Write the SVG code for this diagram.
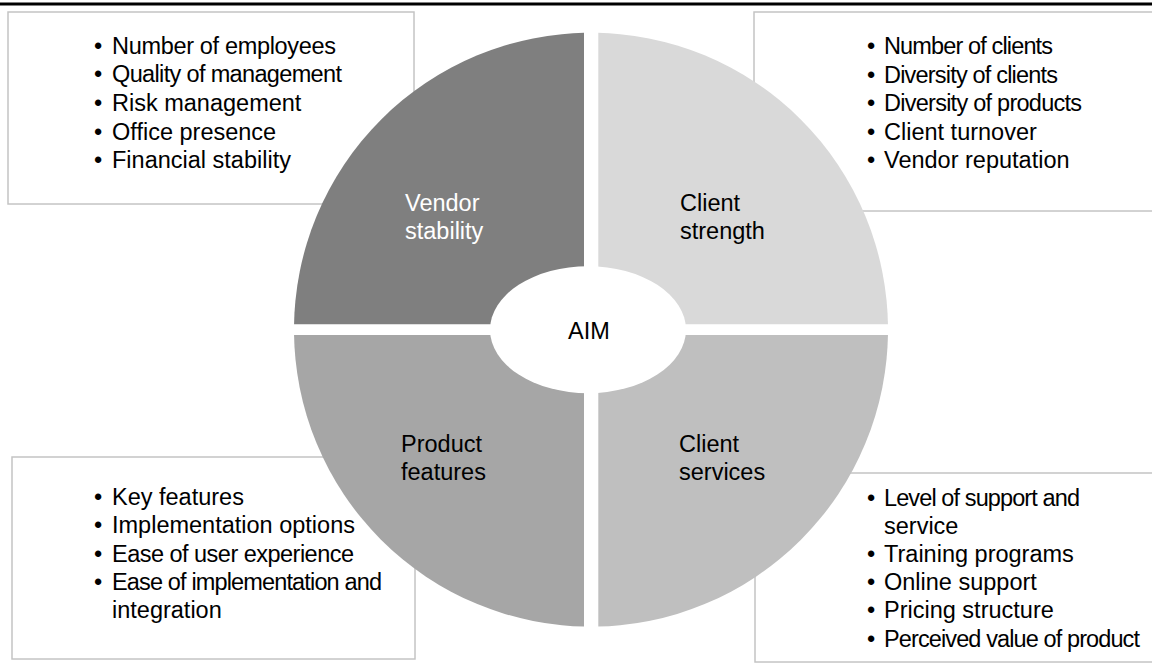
<svg xmlns="http://www.w3.org/2000/svg" width="1152" height="669" viewBox="0 0 1152 669">
<style>
  .box { fill: #ffffff; stroke: #c4c4c4; stroke-width: 1.5; }
  .t { font-family: "Liberation Sans", Arial, sans-serif; font-size: 23.5px; fill: #000000; }
  .w { font-family: "Liberation Sans", Arial, sans-serif; font-size: 23.5px; fill: #ffffff; }
</style>
<defs>
  <clipPath id="cTL"><rect x="0" y="0" width="584" height="324.3"/></clipPath>
  <clipPath id="cTR"><rect x="598.3" y="0" width="600" height="324.3"/></clipPath>
  <clipPath id="cBL"><rect x="0" y="335" width="584" height="400"/></clipPath>
  <clipPath id="cBR"><rect x="598.3" y="335" width="600" height="400"/></clipPath>
</defs>
<rect x="0" y="0" width="1152" height="669" fill="#ffffff"/>
<line x1="0" y1="4" x2="1152" y2="4" stroke="#000000" stroke-width="3"/>

<g id="box-vendor-stability">
  <rect class="box" x="8" y="12" width="406" height="192"/>
  <text class="t" x="94" y="53.5">•</text><text class="t" x="112" y="53.5" textLength="224" lengthAdjust="spacing">Number of employees</text>
  <text class="t" x="94" y="82.2">•</text><text class="t" x="112" y="82.2" textLength="230" lengthAdjust="spacing">Quality of management</text>
  <text class="t" x="94" y="110.9">•</text><text class="t" x="112" y="110.9">Risk management</text>
  <text class="t" x="94" y="139.6">•</text><text class="t" x="112" y="139.6">Office presence</text>
  <text class="t" x="94" y="168.3">•</text><text class="t" x="112" y="168.3">Financial stability</text>
</g>

<g id="box-client-strength">
  <rect class="box" x="754" y="12" width="410" height="199"/>
  <text class="t" x="867" y="54">•</text><text class="t" x="884" y="54" textLength="169" lengthAdjust="spacing">Number of clients</text>
  <text class="t" x="867" y="82.5">•</text><text class="t" x="884" y="82.5" textLength="174" lengthAdjust="spacing">Diversity of clients</text>
  <text class="t" x="867" y="111">•</text><text class="t" x="884" y="111" textLength="198" lengthAdjust="spacing">Diversity of products</text>
  <text class="t" x="867" y="139.5">•</text><text class="t" x="884" y="139.5">Client turnover</text>
  <text class="t" x="867" y="168">•</text><text class="t" x="884" y="168">Vendor reputation</text>
</g>

<g id="box-product-features">
  <rect class="box" x="12" y="457" width="403" height="202"/>
  <text class="t" x="94" y="505">•</text><text class="t" x="112" y="505">Key features</text>
  <text class="t" x="94" y="533.3">•</text><text class="t" x="112" y="533.3">Implementation options</text>
  <text class="t" x="94" y="561.7">•</text><text class="t" x="112" y="561.7" textLength="242" lengthAdjust="spacing">Ease of user experience</text>
  <text class="t" x="94" y="590">•</text><text class="t" x="112" y="590" textLength="270" lengthAdjust="spacing">Ease of implementation and</text>
  <text class="t" x="112" y="618.3">integration</text>
</g>

<g id="box-client-services">
  <rect class="box" x="755" y="473" width="410" height="189"/>
  <text class="t" x="867" y="505.5">•</text><text class="t" x="884" y="505.5" textLength="196" lengthAdjust="spacing">Level of support and</text>
  <text class="t" x="884" y="533.7">service</text>
  <text class="t" x="867" y="561.9">•</text><text class="t" x="884" y="561.9">Training programs</text>
  <text class="t" x="867" y="590.1">•</text><text class="t" x="884" y="590.1">Online support</text>
  <text class="t" x="867" y="618.3">•</text><text class="t" x="884" y="618.3">Pricing structure</text>
  <text class="t" x="867" y="646.5">•</text><text class="t" x="884" y="646.5" textLength="256" lengthAdjust="spacing">Perceived value of product</text>
</g>

<g id="q-vendor-stability">
  <circle cx="591" cy="329.7" r="297" fill="#7f7f7f" clip-path="url(#cTL)"/>
  <text class="w" x="405" y="210.7">Vendor</text>
  <text class="w" x="405" y="239.3">stability</text>
</g>
<g id="q-client-strength">
  <circle cx="591" cy="329.7" r="297" fill="#d9d9d9" clip-path="url(#cTR)"/>
  <text class="t" x="680" y="210.7">Client</text>
  <text class="t" x="680" y="239.3">strength</text>
</g>
<g id="q-product-features">
  <circle cx="591" cy="329.7" r="297" fill="#a6a6a6" clip-path="url(#cBL)"/>
  <text class="t" x="401" y="451.7">Product</text>
  <text class="t" x="401" y="480.3">features</text>
</g>
<g id="q-client-services">
  <circle cx="591" cy="329.7" r="297" fill="#bfbfbf" clip-path="url(#cBR)"/>
  <text class="t" x="679" y="451.7">Client</text>
  <text class="t" x="679" y="480.3">services</text>
</g>

<g id="aim">
  <ellipse cx="588" cy="329.7" rx="98" ry="63.5" fill="#ffffff"/>
  <text class="t" x="589" y="339.3" text-anchor="middle">AIM</text>
</g>
</svg>
